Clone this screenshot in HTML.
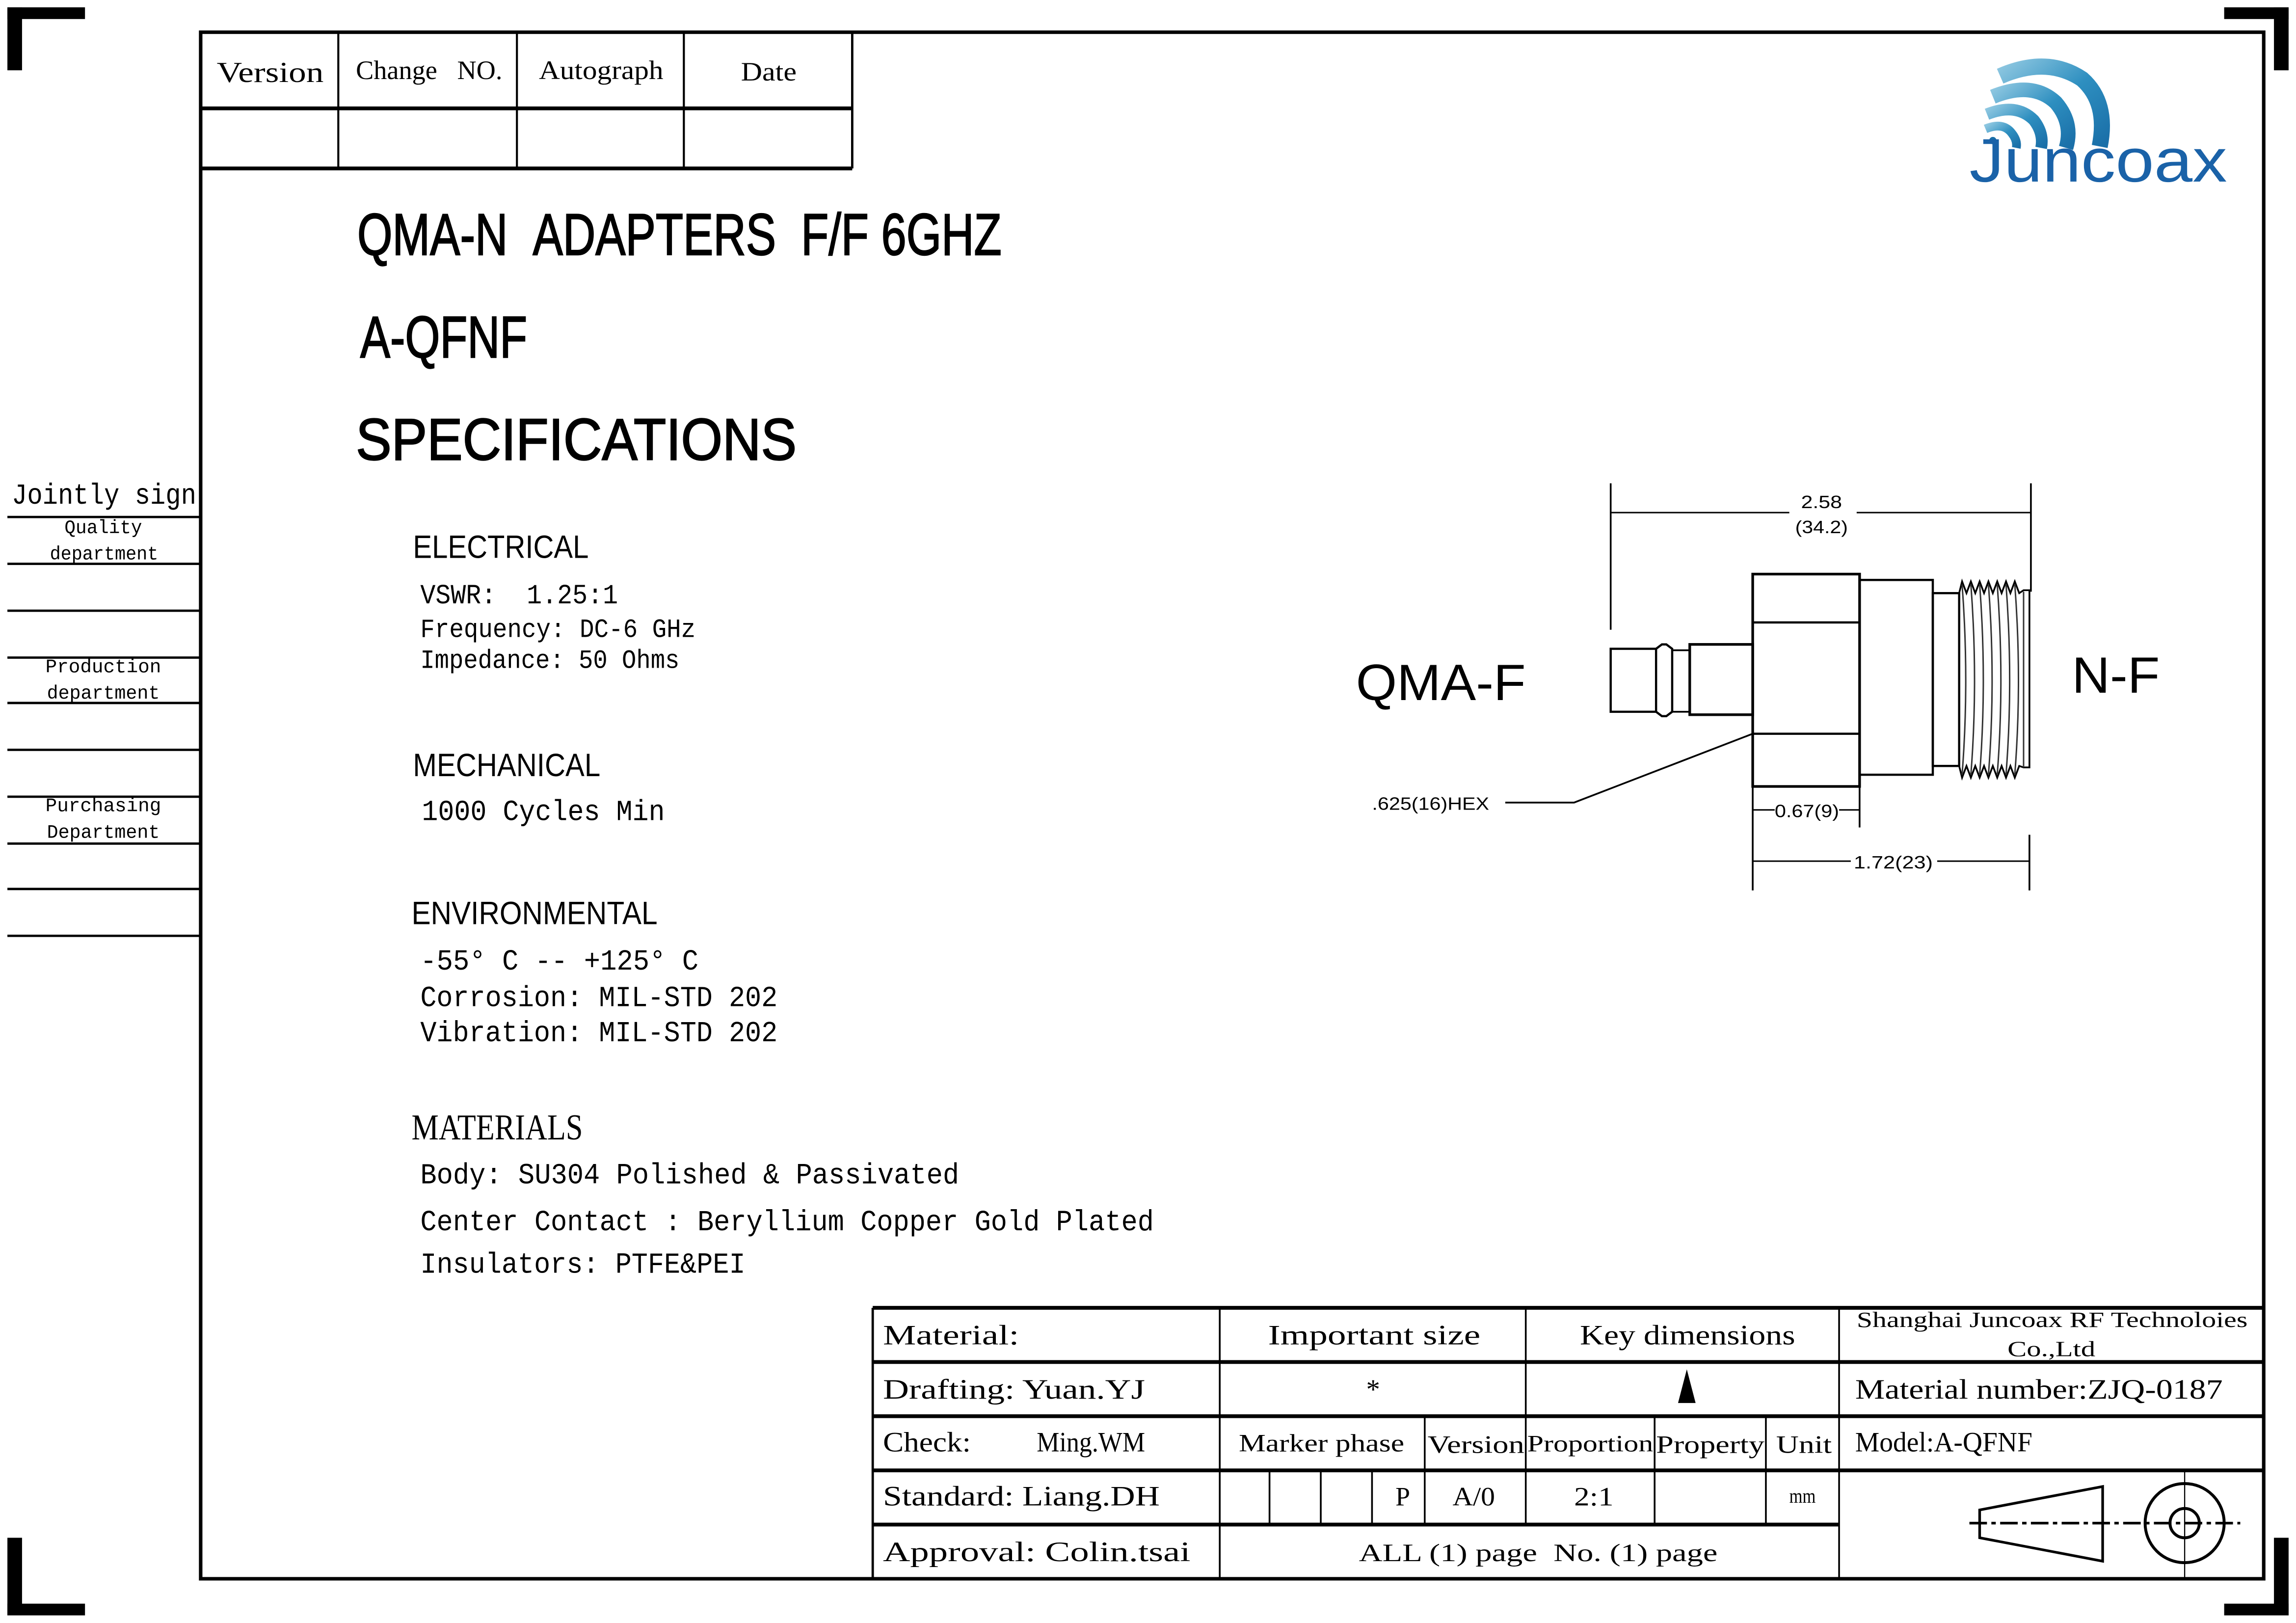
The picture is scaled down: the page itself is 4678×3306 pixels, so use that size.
<!DOCTYPE html>
<html><head><meta charset="utf-8"><style>
html,body{margin:0;padding:0;background:#fff;}
svg{display:block;}
.s{font-family:"Liberation Serif","Noto Serif CJK SC",serif;fill:#000;}
.m{font-family:"Liberation Mono","Noto Sans CJK SC",monospace;fill:#000;}
.a{font-family:"Liberation Sans","Noto Sans CJK SC",sans-serif;fill:#000;}
</style></head><body>
<svg width="4678" height="3306" viewBox="0 0 1568 1108.2" xmlns="http://www.w3.org/2000/svg">
<rect x="0" y="0" width="1568" height="1108.2" fill="#fff"/>
<g fill="#000">
<rect x="5" y="5" width="10" height="43"/><rect x="5" y="5" width="53" height="8"/>
<rect x="1553" y="5" width="10" height="43"/><rect x="1519" y="5" width="44" height="8"/>
<rect x="5" y="1050" width="10" height="53"/><rect x="5" y="1095" width="53" height="8"/>
<rect x="1553" y="1050" width="10" height="53"/><rect x="1519" y="1095" width="44" height="8"/>
</g>
<g stroke="#000" fill="none">
<rect x="137" y="22" width="1409" height="1056" stroke-width="2.4"/>
<line x1="137" y1="74" x2="582" y2="74" stroke-width="2.6"/>
<line x1="137" y1="115" x2="582" y2="115" stroke-width="2.6"/>
<line x1="231" y1="22" x2="231" y2="115" stroke-width="1.4"/>
<line x1="353" y1="22" x2="353" y2="115" stroke-width="1.4"/>
<line x1="467" y1="22" x2="467" y2="115" stroke-width="1.4"/>
<line x1="582" y1="22" x2="582" y2="115" stroke-width="1.6"/>
<g stroke-width="1.6">
<line x1="5" y1="353" x2="137" y2="353"/><line x1="5" y1="385" x2="137" y2="385"/>
<line x1="5" y1="417" x2="137" y2="417"/><line x1="5" y1="449" x2="137" y2="449"/>
<line x1="5" y1="480" x2="137" y2="480"/><line x1="5" y1="512" x2="137" y2="512"/>
<line x1="5" y1="544" x2="137" y2="544"/><line x1="5" y1="576" x2="137" y2="576"/>
<line x1="5" y1="607" x2="137" y2="607"/><line x1="5" y1="639" x2="137" y2="639"/>
</g>
<line x1="596" y1="893" x2="1546" y2="893" stroke-width="2.6"/>
<line x1="596" y1="930" x2="1546" y2="930" stroke-width="2.6"/>
<line x1="596" y1="967" x2="1546" y2="967" stroke-width="2.6"/>
<line x1="596" y1="1004" x2="1546" y2="1004" stroke-width="2.6"/>
<line x1="596" y1="1041" x2="1256" y2="1041" stroke-width="2.6"/>
<line x1="596" y1="893" x2="596" y2="1078" stroke-width="1.6"/>
<line x1="833" y1="893" x2="833" y2="1078" stroke-width="1.2"/>
<line x1="1042" y1="893" x2="1042" y2="1041" stroke-width="1.2"/>
<line x1="1256" y1="893" x2="1256" y2="1078" stroke-width="1.2"/>
<line x1="973" y1="967" x2="973" y2="1041" stroke-width="1.2"/>
<line x1="1130" y1="967" x2="1130" y2="1041" stroke-width="1.2"/>
<line x1="1206" y1="967" x2="1206" y2="1041" stroke-width="1.2"/>
<line x1="867" y1="1004" x2="867" y2="1041" stroke-width="1.2"/>
<line x1="902" y1="1004" x2="902" y2="1041" stroke-width="1.2"/>
<line x1="937" y1="1004" x2="937" y2="1041" stroke-width="1.2"/>
<path d="M1436 1015 L1436 1066 L1352 1050 L1352 1031 Z" stroke-width="1.8"/>
<circle cx="1492" cy="1040" r="27" stroke-width="2"/>
<circle cx="1492" cy="1040" r="10" stroke-width="2"/>
<line x1="1492" y1="1005" x2="1492" y2="1078" stroke-width="0.8"/>
<line x1="1345" y1="1040" x2="1530" y2="1040" stroke-width="1.8" stroke-dasharray="12,3,3,3"/>
</g>
<polygon points="1152,935 1146,958 1158,958" fill="#000"/>

<text class="s" x="148" y="56" font-size="20" textLength="73" lengthAdjust="spacingAndGlyphs">Version</text>
<text class="s" x="243" y="54" font-size="18" textLength="100" lengthAdjust="spacingAndGlyphs">Change&#160;&#160;&#160;NO.</text>
<text class="s" x="368" y="54" font-size="18" textLength="85" lengthAdjust="spacingAndGlyphs">Autograph</text>
<text class="s" x="506" y="55" font-size="18" textLength="38" lengthAdjust="spacingAndGlyphs">Date</text>

<text class="m" x="8" y="344" font-size="20" textLength="126" lengthAdjust="spacingAndGlyphs">Jointly sign</text>
<text class="m" x="44" y="364" font-size="13" textLength="53" lengthAdjust="spacingAndGlyphs">Quality</text>
<text class="m" x="34" y="382" font-size="13" textLength="74" lengthAdjust="spacingAndGlyphs">department</text>
<text class="m" x="31" y="459" font-size="13" textLength="79" lengthAdjust="spacingAndGlyphs">Production</text>
<text class="m" x="32" y="477" font-size="13" textLength="77" lengthAdjust="spacingAndGlyphs">department</text>
<text class="m" x="31" y="554" font-size="13" textLength="79" lengthAdjust="spacingAndGlyphs">Purchasing</text>
<text class="m" x="32" y="572" font-size="13" textLength="77" lengthAdjust="spacingAndGlyphs">Department</text>

<g stroke="#000" stroke-width="0.8">
<text class="a" x="244" y="174" font-size="40" textLength="440" lengthAdjust="spacingAndGlyphs">QMA-N&#160;&#160;ADAPTERS&#160;&#160;F/F 6GHZ</text>
<text class="a" x="246" y="244" font-size="40" textLength="114" lengthAdjust="spacingAndGlyphs">A-QFNF</text>
<text class="a" x="243" y="314" font-size="40" textLength="301" lengthAdjust="spacingAndGlyphs">SPECIFICATIONS</text>
</g>

<text class="a" x="282" y="381" font-size="22" textLength="120" lengthAdjust="spacingAndGlyphs">ELECTRICAL</text>
<text class="m" x="287" y="412" font-size="19" textLength="135" lengthAdjust="spacingAndGlyphs">VSWR:&#160; 1.25:1</text>
<text class="m" x="287" y="435" font-size="18" textLength="188" lengthAdjust="spacingAndGlyphs">Frequency: DC-6 GHz</text>
<text class="m" x="287" y="456" font-size="18" textLength="177" lengthAdjust="spacingAndGlyphs">Impedance: 50 Ohms</text>
<text class="a" x="282" y="530" font-size="22" textLength="128" lengthAdjust="spacingAndGlyphs">MECHANICAL</text>
<text class="m" x="288" y="560" font-size="20" textLength="166" lengthAdjust="spacingAndGlyphs">1000 Cycles Min</text>
<text class="a" x="281" y="631" font-size="22" textLength="168" lengthAdjust="spacingAndGlyphs">ENVIRONMENTAL</text>
<text class="m" x="287" y="662" font-size="20" textLength="190" lengthAdjust="spacingAndGlyphs">-55° C -- +125° C</text>
<text class="m" x="287" y="687" font-size="20" textLength="244" lengthAdjust="spacingAndGlyphs">Corrosion: MIL-STD 202</text>
<text class="m" x="287" y="711" font-size="20" textLength="244" lengthAdjust="spacingAndGlyphs">Vibration: MIL-STD 202</text>
<text class="s" x="281" y="778" font-size="25" textLength="117" lengthAdjust="spacingAndGlyphs">MATERIALS</text>
<text class="m" x="287" y="808" font-size="20" textLength="368" lengthAdjust="spacingAndGlyphs">Body: SU304 Polished &amp; Passivated</text>
<text class="m" x="287" y="840" font-size="20" textLength="501" lengthAdjust="spacingAndGlyphs">Center Contact : Beryllium Copper Gold Plated</text>
<text class="m" x="287" y="869" font-size="20" textLength="222" lengthAdjust="spacingAndGlyphs">Insulators: PTFE&amp;PEI</text>

<text class="s" x="603" y="918" font-size="19" textLength="93" lengthAdjust="spacingAndGlyphs">Material:</text>
<text class="s" x="866" y="918" font-size="19" textLength="145" lengthAdjust="spacingAndGlyphs">Important size</text>
<text class="s" x="1079" y="918" font-size="19" textLength="147" lengthAdjust="spacingAndGlyphs">Key dimensions</text>
<text class="s" x="1268" y="906" font-size="15" textLength="267" lengthAdjust="spacingAndGlyphs">Shanghai Juncoax RF Technoloies</text>
<text class="s" x="1371" y="926" font-size="15" textLength="60" lengthAdjust="spacingAndGlyphs">Co.,Ltd</text>
<text class="s" x="603" y="955" font-size="19" textLength="179" lengthAdjust="spacingAndGlyphs">Drafting: Yuan.YJ</text>
<text class="s" x="933" y="955" font-size="19">*</text>
<text class="s" x="1267" y="955" font-size="19" textLength="251" lengthAdjust="spacingAndGlyphs">Material number:ZJQ-0187</text>
<text class="s" x="603" y="991" font-size="19" textLength="60" lengthAdjust="spacingAndGlyphs">Check:</text>
<text class="s" x="708" y="991" font-size="19" textLength="74" lengthAdjust="spacingAndGlyphs">Ming.WM</text>
<text class="s" x="846" y="991" font-size="17" textLength="113" lengthAdjust="spacingAndGlyphs">Marker phase</text>
<text class="s" x="975" y="992" font-size="17" textLength="66" lengthAdjust="spacingAndGlyphs">Version</text>
<text class="s" x="1043" y="991" font-size="16" textLength="86" lengthAdjust="spacingAndGlyphs">Proportion</text>
<text class="s" x="1131" y="992" font-size="17" textLength="74" lengthAdjust="spacingAndGlyphs">Property</text>
<text class="s" x="1213" y="992" font-size="17" textLength="38" lengthAdjust="spacingAndGlyphs">Unit</text>
<text class="s" x="1267" y="991" font-size="19" textLength="121" lengthAdjust="spacingAndGlyphs">Model:A-QFNF</text>
<text class="s" x="603" y="1028" font-size="19" textLength="189" lengthAdjust="spacingAndGlyphs">Standard: Liang.DH</text>
<text class="s" x="953" y="1028" font-size="18">P</text>
<text class="s" x="992" y="1028" font-size="18" textLength="29" lengthAdjust="spacingAndGlyphs">A/0</text>
<text class="s" x="1075" y="1028" font-size="18" textLength="27" lengthAdjust="spacingAndGlyphs">2:1</text>
<text class="s" x="1222" y="1026" font-size="14" textLength="18" lengthAdjust="spacingAndGlyphs">mm</text>
<text class="s" x="603" y="1066" font-size="19" textLength="210" lengthAdjust="spacingAndGlyphs">Approval: Colin.tsai</text>
<text class="s" x="928" y="1066" font-size="17" textLength="245" lengthAdjust="spacingAndGlyphs">ALL (1) page&#160;&#160;No. (1) page</text>

<g stroke="#000" fill="none" stroke-width="1.5">
<line x1="1100" y1="330" x2="1100" y2="430" stroke-width="1.2"/>
<line x1="1387" y1="330" x2="1387" y2="404" stroke-width="1.2"/>
<line x1="1100" y1="350" x2="1222" y2="350" stroke-width="1"/>
<line x1="1268" y1="350" x2="1387" y2="350" stroke-width="1"/>
<rect x="1100" y="443" width="31" height="43"/>
<path d="M1131 443 L1135 440 L1138 440 L1142 443 L1142 486 L1138 489 L1135 489 L1131 486"/>
<rect x="1142" y="444" width="12" height="42" stroke-width="1.2"/>
<rect x="1154" y="440" width="43" height="48" stroke-width="1.8"/>
<rect x="1197" y="392" width="73" height="145" stroke-width="1.8"/>
<line x1="1197" y1="425" x2="1270" y2="425"/>
<line x1="1197" y1="501" x2="1270" y2="501"/>
<rect x="1270" y="396" width="50" height="133"/>
<rect x="1320" y="405" width="18" height="118"/>
<path d="M1338 405 L1340 397 L1343 405 L1346 397 L1349 405 L1352 397 L1355 405 L1358 397 L1361 405 L1364 397 L1367 405 L1370 397 L1373 405 L1376 397 L1379 405 L1382 403 L1386 403 L1386 524 L1382 524 L1379 523 L1376 531 L1373 523 L1370 531 L1367 523 L1364 531 L1361 523 L1358 531 L1355 523 L1352 531 L1349 523 L1346 531 L1343 523 L1340 531 L1338 523 Z" stroke-width="1.2"/>
<g stroke-width="1" stroke="#333">
<path d="M1340 399 Q1345 465 1340 529"/><path d="M1346 399 Q1351 465 1346 529"/>
<path d="M1352 399 Q1357 465 1352 529"/><path d="M1358 399 Q1363 465 1358 529"/>
<path d="M1364 399 Q1369 465 1364 529"/><path d="M1370 399 Q1375 465 1370 529"/>
<path d="M1376 399 Q1381 465 1376 529"/><path d="M1382 404 L1382 524"/>
</g>
<polyline points="1197,501 1075,548 1028,548" stroke-width="1.2"/>
<line x1="1270" y1="537" x2="1270" y2="565" stroke-width="1.2"/>
<line x1="1197" y1="537" x2="1197" y2="608" stroke-width="1.2"/>
<line x1="1197" y1="553" x2="1212" y2="553" stroke-width="1"/>
<line x1="1256" y1="553" x2="1270" y2="553" stroke-width="1"/>
<line x1="1386" y1="570" x2="1386" y2="608" stroke-width="1.2"/>
<line x1="1197" y1="588" x2="1264" y2="588" stroke-width="1"/>
<line x1="1323" y1="588" x2="1386" y2="588" stroke-width="1"/>
</g>
<text class="a" x="1244" y="347" font-size="12" text-anchor="middle" textLength="28" lengthAdjust="spacingAndGlyphs">2.58</text>
<text class="a" x="1244" y="364" font-size="12" text-anchor="middle" textLength="36" lengthAdjust="spacingAndGlyphs">(34.2)</text>
<text class="a" x="937" y="553" font-size="12" textLength="80" lengthAdjust="spacingAndGlyphs">.625(16)HEX</text>
<text class="a" x="1212" y="558" font-size="12" textLength="44" lengthAdjust="spacingAndGlyphs">0.67(9)</text>
<text class="a" x="1266" y="593" font-size="12" textLength="54" lengthAdjust="spacingAndGlyphs">1.72(23)</text>
<text class="a" x="926" y="478" font-size="35" textLength="116" lengthAdjust="spacingAndGlyphs">QMA-F</text>
<text class="a" x="1415" y="473" font-size="35" textLength="60" lengthAdjust="spacingAndGlyphs">N-F</text>

<defs><linearGradient id="lg" x1="0" y1="0" x2="1" y2="1">
<stop offset="0" stop-color="#8cc6e0"/><stop offset="0.5" stop-color="#2e8fc0"/><stop offset="1" stop-color="#1a6fa8"/></linearGradient></defs>
<g fill="none" stroke="url(#lg)">
<path d="M1366 52 Q1398 38 1422 54 Q1440 70 1434 100" stroke-width="11"/>
<path d="M1361 66 Q1388 55 1404 70 Q1416 84 1411 101" stroke-width="10"/>
<path d="M1357 78 Q1377 70 1389 82 Q1396 91 1394 101" stroke-width="8"/>
<path d="M1356 88 Q1368 83 1374 91 Q1378 96 1377 101" stroke-width="6"/>
</g>
<circle cx="1361" cy="96" r="2.5" fill="#1a6fa8"/>
<text x="1345" y="124" font-family="Liberation Sans, sans-serif" font-size="42" fill="#1a62a8" textLength="176" lengthAdjust="spacingAndGlyphs">Juncoax</text>
</svg>
</body></html>
